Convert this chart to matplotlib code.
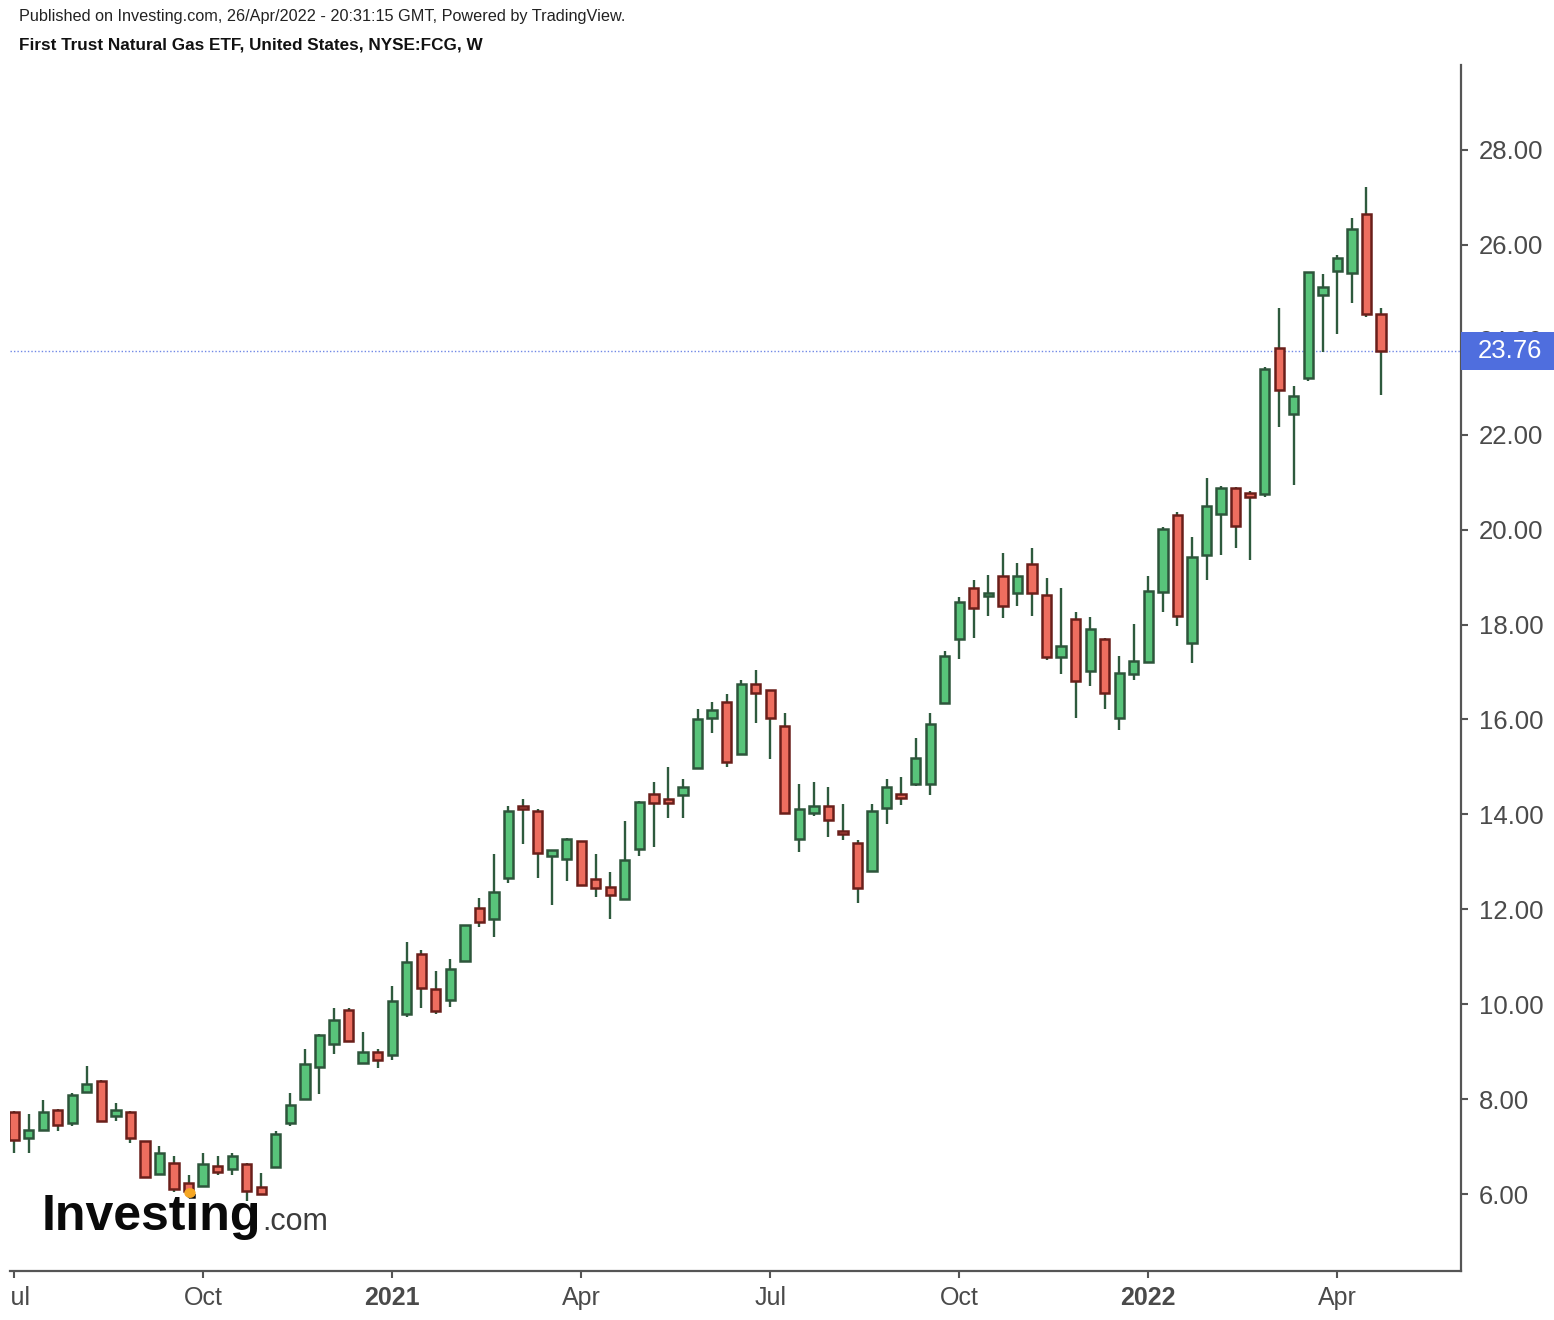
import numpy as np
import pandas as pd
import matplotlib
matplotlib.use('Agg')
import matplotlib.pyplot as plt
from matplotlib.patches import Rectangle
from matplotlib.transforms import Bbox, TransformedBbox, blended_transform_factory

plt.rcParams['font.family'] = ['Liberation Sans', 'DejaVu Sans']

# weekly candles FCG, week of 6 Jul 2020 .. week of 25 Apr 2022
start_date = '2020-07-06'
opens = [7.73, 7.18, 7.35, 7.77, 7.50, 8.16, 8.39, 7.65, 7.73, 7.11,
         6.42, 6.65, 6.24, 6.17, 6.59, 6.52, 6.64, 6.14, 6.57, 7.49,
         8.00, 8.67, 9.17, 9.88, 8.77, 9.00, 8.93, 9.79, 11.05, 10.33,
         10.10, 10.91, 12.02, 11.79, 12.65, 14.17, 14.07, 13.12, 13.07, 13.44,
         12.64, 12.47, 12.21, 13.28, 14.43, 14.32, 14.40, 14.97, 16.04, 16.37,
         15.27, 16.74, 16.62, 15.86, 13.49, 14.03, 14.17, 13.65, 13.40, 12.81,
         14.14, 14.44, 14.65, 14.65, 16.35, 17.69, 18.78, 18.60, 19.02, 18.66,
         19.28, 18.62, 17.32, 18.11, 17.02, 17.69, 16.04, 16.96, 17.22, 18.69,
         20.31, 17.62, 19.46, 20.34, 20.87, 20.78, 20.75, 23.83, 22.44, 23.20,
         24.94, 25.46, 25.40, 26.65, 24.54]
highs = [7.75, 7.68, 7.98, 7.79, 8.14, 8.70, 8.40, 7.93, 7.75, 7.12,
         7.01, 6.81, 6.40, 6.86, 6.81, 6.86, 6.65, 6.45, 7.33, 8.13,
         9.05, 9.37, 9.92, 9.92, 9.42, 9.05, 10.39, 11.32, 11.15, 10.70,
         10.95, 11.68, 12.23, 13.16, 14.17, 14.32, 14.11, 13.26, 13.50, 13.45,
         13.16, 12.79, 13.87, 14.28, 14.69, 14.99, 14.74, 16.22, 16.37, 16.53,
         16.84, 17.04, 16.63, 16.13, 14.64, 14.69, 14.58, 14.23, 13.46, 14.23,
         14.74, 14.79, 15.60, 16.13, 17.45, 18.59, 18.94, 19.04, 19.50, 19.29,
         19.61, 18.99, 18.78, 18.27, 18.16, 17.72, 17.34, 18.01, 19.03, 20.06,
         20.38, 19.85, 21.08, 20.92, 20.90, 20.82, 23.43, 24.66, 23.03, 25.43,
         25.38, 25.79, 26.56, 27.23, 24.66]
lows = [6.87, 6.87, 7.33, 7.33, 7.43, 8.15, 7.52, 7.54, 7.08, 6.35,
        6.40, 6.05, 5.91, 6.15, 6.41, 6.40, 5.85, 6.00, 6.55, 7.43,
        7.98, 8.10, 8.96, 9.22, 8.76, 8.66, 8.82, 9.73, 9.93, 9.79,
        9.95, 10.90, 11.63, 11.42, 12.55, 13.37, 12.65, 12.09, 12.60, 12.50,
        12.25, 11.79, 12.20, 13.12, 13.32, 13.93, 13.93, 14.96, 15.72, 15.00,
        15.26, 15.93, 15.16, 14.02, 13.21, 13.97, 13.53, 13.47, 12.14, 12.80,
        13.80, 14.20, 14.60, 14.41, 16.33, 17.27, 17.72, 18.18, 18.13, 18.39,
        18.18, 17.25, 16.96, 16.04, 16.70, 16.23, 15.78, 16.84, 17.20, 18.27,
        17.97, 17.20, 18.94, 19.46, 19.61, 19.36, 20.69, 22.17, 20.94, 23.14,
        23.75, 24.12, 24.78, 24.47, 22.84]
closes = [7.14, 7.36, 7.72, 7.45, 8.08, 8.33, 7.54, 7.77, 7.18, 6.36,
          6.86, 6.11, 6.06, 6.64, 6.47, 6.81, 6.06, 6.01, 7.26, 7.88,
          8.74, 9.36, 9.66, 9.23, 9.00, 8.82, 10.07, 10.89, 10.35, 9.85,
          10.74, 11.67, 11.74, 12.37, 14.07, 14.12, 13.18, 13.25, 13.49, 12.51,
          12.46, 12.30, 13.04, 14.27, 14.24, 14.25, 14.58, 16.01, 16.21, 15.11,
          16.74, 16.55, 16.04, 14.03, 14.11, 14.17, 13.88, 13.58, 12.45, 14.07,
          14.58, 14.35, 15.18, 15.90, 17.34, 18.47, 18.34, 18.67, 18.40, 19.02,
          18.66, 17.32, 17.55, 16.81, 17.91, 16.55, 16.97, 17.24, 18.71, 20.01,
          18.19, 19.43, 20.50, 20.87, 20.08, 20.69, 23.38, 22.94, 22.82, 25.42,
          25.12, 25.73, 26.34, 24.54, 23.76]
price_ticks = [6, 8, 10, 12, 14, 16, 18, 20, 22, 24, 26, 28]
last_price = closes[-1]

o = np.array(opens)
h = np.array(highs)
l = np.array(lows)
c = np.array(closes)
x = np.arange(len(o))
dates = pd.date_range(start_date, periods=len(o), freq='7D')

up_fill, up_edge = '#58c47a', '#2d553b'
dn_fill, dn_edge = '#ee6e5f', '#6a1f1a'
wick_col = '#2e5a3d'
axis_col = '#555555'
text_col = '#4a4a4a'

fig = plt.figure(figsize=(15.54, 13.2), dpi=100)
ax = fig.add_axes([10 / 1554, 49 / 1320, 1451 / 1554, 1206 / 1320])

up = c >= o
ax.vlines(x, l, h, color=wick_col, lw=1.7, zorder=2)
ax.bar(x[up], c[up] - o[up], bottom=o[up], width=0.64,
       color=up_fill, edgecolor=up_edge, lw=1.8, zorder=3)
ax.bar(x[~up], o[~up] - c[~up], bottom=c[~up], width=0.64,
       color=dn_fill, edgecolor=dn_edge, lw=1.8, zorder=3)

# last price line
ax.axhline(last_price, color='#7088e6', lw=1.0, ls=(0, (1, 1.5)), zorder=1)

ax.set_xlim(-0.28, 99.5)
ax.set_ylim(4.38, 29.79)

# quarter ticks at first bar of Jan/Apr/Jul/Oct
tick_pos, tick_lab = [], []
for i, d in enumerate(dates):
    if d.month in (1, 4, 7, 10) and (i == 0 or dates[i - 1].month != d.month):
        tick_pos.append(i)
        tick_lab.append(str(d.year) if d.month == 1 else d.strftime('%b'))
ax.set_xticks(tick_pos)
ax.set_xticklabels(tick_lab)

ax.yaxis.tick_right()
ax.set_yticks(price_ticks)
ax.set_yticklabels(['%.2f' % v for v in price_ticks])

for s in ['top', 'left']:
    ax.spines[s].set_visible(False)
for s in ['right', 'bottom']:
    ax.spines[s].set_color(axis_col)
    ax.spines[s].set_linewidth(1.6)

ax.tick_params(axis='x', length=5, width=1.5, color=axis_col, labelcolor=text_col,
               labelsize=18, pad=6)
ax.tick_params(axis='y', length=5, width=1.5, color=axis_col, labelcolor=text_col,
               labelsize=18.5, pad=8)

clip = TransformedBbox(Bbox([[0, 0], [1, 1]]),
                       blended_transform_factory(ax.transAxes, fig.transFigure))
for lab in ax.get_xticklabels():
    if lab.get_text().isdigit():
        lab.set_fontweight('bold')
    lab.set_clip_box(clip)
    lab.set_clip_on(True)

# price label box on the axis
tr = blended_transform_factory(fig.transFigure, ax.transData)
box_h = 38 / 47.45
fig.patches.append(Rectangle((1461 / 1554, last_price - box_h / 2), 1 - 1461 / 1554, box_h,
                             transform=tr, facecolor='#4f6ede', edgecolor='none', zorder=5))
fig.text(1510 / 1554, last_price, '%.2f' % last_price, transform=tr, color='white',
         fontsize=18.5, ha='center', va='center', zorder=6)

# header
fig.text(19 / 1554, 1 - 17 / 1320, 'Published on Investing.com, 26/Apr/2022 - 20:31:15 GMT, Powered by TradingView.',
         fontsize=11.7, color='#222222', va='center', ha='left')
fig.text(19 / 1554, 1 - 45 / 1320, 'First Trust Natural Gas ETF, United States, NYSE:FCG, W',
         fontsize=12.3, fontweight='bold', color='#111111', va='center', ha='left')

# watermark
fig.text(42 / 1554, 1 - 1230 / 1320, 'Investing', fontsize=36, fontweight='bold',
         color='#0a0a0a', ha='left', va='baseline', zorder=7)
fig.text(262 / 1554, 1 - 1230 / 1320, '.com', fontsize=22, color='#3c3c3c',
         ha='left', va='baseline', zorder=7)
fig.add_artist(plt.Circle((190 / 1554, 1 - 1193 / 1320), 0.0032, transform=fig.transFigure,
                          color='#f5a623', zorder=8))

fig.savefig('out.png', dpi=100, facecolor='white')
